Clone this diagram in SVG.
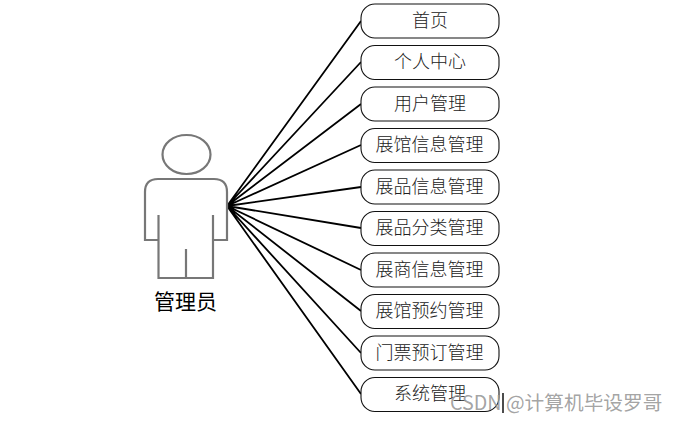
<svg xmlns="http://www.w3.org/2000/svg" width="677" height="422" viewBox="0 0 677 422">
<style>
text{font-family:"Noto Sans CJK SC","Liberation Sans",sans-serif}
.b{fill:#fff;stroke:#111;stroke-width:1.1}
.l{font-size:18px;fill:#222;text-anchor:middle;font-weight:300}
.c{stroke:#000;stroke-width:1.8;fill:none}
.a{fill:none;stroke:#777;stroke-width:2.2;filter:url(#s)}
</style>
<defs><filter id="s" x="-5%" y="-5%" width="110%" height="110%"><feGaussianBlur stdDeviation="0.6"/></filter></defs>
<rect width="677" height="422" fill="#fff"/>
<g id="connectors">
<path class="c" d="M227 206L361 21M227 206L361 62M227 206L361 104M227 206L361 145M227 206L361 187M227 206L361 228M227 206L361 270M227 206L361 311M227 206L361 353M227 206L361 394"/>
</g>
<g id="actor">
<ellipse class="a" cx="186.500" cy="154.500" rx="24" ry="19.500"/>
<path class="a" d="M158 240H145V192Q145 179 158 179H214Q227 179 227 192V240H213M158.500 215V278H213V215M186 249V278"/>
<text x="185.500" y="309" font-size="21" text-anchor="middle" fill="#000">管理员</text>
</g>
<g id="n1"><rect class="b" x="361" y="4" width="138" height="34" rx="14"/><text class="l" x="430" y="27">首页</text></g>
<g id="n2"><rect class="b" x="361" y="45.500" width="138" height="34" rx="14"/><text class="l" x="430" y="68">个人中心</text></g>
<g id="n3"><rect class="b" x="361" y="87" width="138" height="34" rx="14"/><text class="l" x="430" y="110">用户管理</text></g>
<g id="n4"><rect class="b" x="361" y="128.500" width="138" height="34" rx="14"/><text class="l" x="429.500" y="151">展馆信息管理</text></g>
<g id="n5"><rect class="b" x="361" y="170" width="138" height="34" rx="14"/><text class="l" x="429.500" y="193">展品信息管理</text></g>
<g id="n6"><rect class="b" x="361" y="211.500" width="138" height="34" rx="14"/><text class="l" x="429.500" y="234">展品分类管理</text></g>
<g id="n7"><rect class="b" x="361" y="253" width="138" height="34" rx="14"/><text class="l" x="429.500" y="276">展商信息管理</text></g>
<g id="n8"><rect class="b" x="361" y="294.500" width="138" height="34" rx="14"/><text class="l" x="429.500" y="317">展馆预约管理</text></g>
<g id="n9"><rect class="b" x="361" y="336" width="138" height="34" rx="14"/><text class="l" x="429.500" y="359">门票预订管理</text></g>
<g id="n10"><rect class="b" x="361" y="377.500" width="138" height="34" rx="14"/><text class="l" x="430" y="400">系统管理</text></g>
<path d="M503 393V413" stroke="#111" stroke-width="1.500"/>
<text x="450" y="410" font-size="19.700" fill="#999" fill-opacity="0.9">CSDN @计算机毕设罗哥</text>
</svg>
